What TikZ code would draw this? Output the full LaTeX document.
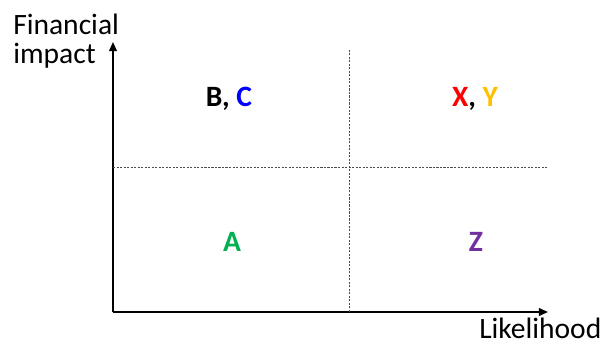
\documentclass[tikz,border=0pt]{standalone}
\usepackage{fontspec}
\setmainfont{Carlito}
\usetikzlibrary{arrows.meta, positioning}
\definecolor{riskgreen}{RGB}{0,176,80}
\definecolor{riskpurple}{RGB}{112,48,160}
\definecolor{riskgold}{RGB}{255,192,0}

\begin{document}
\begin{tikzpicture}[x=0.025cm,y=-0.025cm,
  axis/.style={-{Triangle[length=6.5pt,width=5.5pt]},line width=1.3pt},
  split/.style={gray!60!black,dash pattern=on 1.5pt off 1pt,line width=0.7pt},
  lbl/.style={font=\fontsize{21}{21.3}\selectfont,align=left,inner sep=0pt},
  risk/.style={font=\fontsize{21}{24}\selectfont\bfseries,inner sep=0pt}]
  \useasboundingbox (0,0) rectangle (606,347);
  %% axes
  \coordinate (o) at (113,312);
  \coordinate (ytip) at (113,42);
  \coordinate (xtip) at (548,312);
  \draw[axis](o)--(ytip);
  \draw[axis](o)--(xtip);
  %% quadrant lines
  \coordinate (vtop) at (349,50);
  \coordinate (vbot) at (349,312);
  \coordinate (hl) at (113,167);
  \coordinate (hr) at (547,167);
  \draw[split](vbot)--(vtop);
  \draw[split](hl)--(hr);
  %% axis labels
  \node[lbl,anchor=base west](fin) at (13,64){Financial\\impact};
  \node[lbl,anchor=base west](lik) at (479,339){Likelihood};
  %% quadrants
  \node[risk,anchor=base](bc) at (229,107){B, \textcolor{blue}{C}};
  \node[risk,anchor=base](xy) at (475,107){\textcolor{red}{X}, \textcolor{riskgold}{Y}};
  \node[risk,anchor=base,text=riskgreen](a) at (232,252){A};
  \node[risk,anchor=base,text=riskpurple](z) at (476,252){Z};
\end{tikzpicture}
\end{document}
